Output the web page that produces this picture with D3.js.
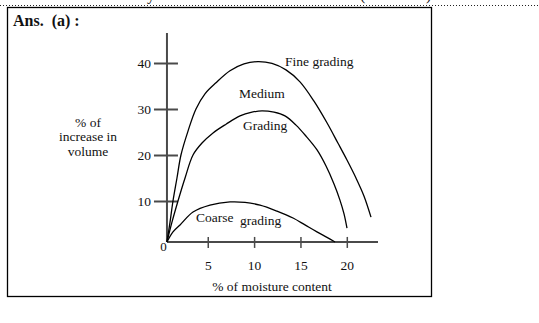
<!DOCTYPE html>
<html><head><meta charset="utf-8">
<script src="https://cdn.jsdelivr.net/npm/d3@7"></script>
<style>
html,body{margin:0;padding:0;background:#fff;}
svg{display:block;}
text{font-family:"Liberation Serif","Times New Roman",serif;fill:#111;}
</style></head>
<body>
<script>
// ---- data ----
const xTicks = [5, 10, 15, 20];
const yTicks = [10, 20, 30, 40];
const origin = [0.6, 1.1]; // where the drawn axes cross
const fineX   = [0.6, 0.93, 1.25, 1.68, 2.11, 2.87, 3.73, 4.7, 5.89, 7.4, 8.91, 10.42, 11.93, 13.44, 14.95, 16.46, 17.86, 19.04, 20.02, 20.99, 21.85, 22.61];
const fineY   = [1.1, 5.4, 10, 15, 20, 25.2, 30, 33.3, 35.7, 38.3, 39.8, 40.3, 39.9, 38.5, 35.9, 31.7, 27, 22.6, 18.9, 15, 11.1, 6.5];
const mediumX = [0.6, 1.14, 1.79, 2.55, 3.41, 4.38, 5.57, 6.97, 8.48, 9.77, 10.85, 12.15, 13.33, 14.52, 15.6, 16.79, 17.76, 18.62, 19.26, 19.7, 20.02];
const mediumY = [1.1, 5.4, 10, 15, 20, 22.6, 24.8, 26.7, 28.5, 29.3, 29.6, 29.3, 28.5, 26.5, 24.1, 21.1, 17.6, 13.7, 10.2, 7.2, 4.1];
const coarseX = [0.6, 1.25, 2.01, 3.41, 5.24, 7.4, 9.02, 10.64, 12.47, 14.2, 15.49, 16.78, 17.86, 18.73];
const coarseY = [1.1, 3.3, 4.8, 7.6, 9.1, 9.8, 9.7, 9.1, 7.8, 6.3, 4.8, 3.3, 2.1, 1.1];

const W = 539, H = 323;
const svg = d3.select("body").append("svg").attr("width", W).attr("height", H);

const x = d3.scaleLinear().domain([0, 20]).range([161.4, 346.8]);
const y = d3.scaleLinear().domain([0, 40]).range([247, 63]);

// top dotted rule and clipped text above
svg.append("line").attr("x1", 0).attr("x2", W).attr("y1", 5.5).attr("y2", 5.5)
  .attr("stroke", "#222").attr("stroke-width", 1).attr("stroke-dasharray", "1,2");
[["y", 147], ["(", 360], [")", 426]].forEach(([t, px]) => {
  svg.append("text").attr("x", px).attr("y", -0.5).attr("font-size", 16).text(t);
});

// frame
svg.append("rect").attr("x", 7.5).attr("y", 7.5).attr("width", 424).attr("height", 289)
  .attr("fill", "none").attr("stroke", "#000").attr("stroke-width", 1.3);

svg.append("text").attr("x", 13).attr("y", 26).attr("font-size", 16).attr("font-weight", "bold")
  .attr("xml:space", "preserve").text("Ans.  (a) :");

const ox = x(origin[0]), oy = y(origin[1]);
const axisColor = "#4a4a4a";

// axes lines
svg.append("line").attr("x1", ox).attr("x2", ox).attr("y1", 33).attr("y2", oy)
  .attr("stroke", axisColor).attr("stroke-width", 2);
svg.append("line").attr("x1", ox).attr("x2", 378).attr("y1", oy).attr("y2", oy)
  .attr("stroke", axisColor).attr("stroke-width", 2);

// y axis ticks
const gy = svg.append("g").attr("transform", `translate(${ox},0)`)
  .call(d3.axisLeft(y).tickValues(yTicks).tickSize(13).tickPadding(4).tickFormat(d3.format("d")));
gy.select(".domain").remove();
gy.selectAll(".tick line").attr("x1", 11).attr("x2", -13).attr("stroke", axisColor).attr("stroke-width", 2);
gy.selectAll(".tick text").attr("font-family", "Liberation Serif, serif").attr("font-size", 13.5).attr("fill", "#111")
  .attr("x", -16).attr("dy", "0.36em");

// x axis ticks
const gx = svg.append("g").attr("transform", `translate(0,${oy})`)
  .call(d3.axisBottom(x).tickValues(xTicks).tickSize(5).tickPadding(15).tickFormat(d3.format("d")));
gx.select(".domain").remove();
gx.selectAll(".tick line").attr("y1", -5).attr("y2", 6).attr("stroke", axisColor).attr("stroke-width", 1.5);
gx.selectAll(".tick text").attr("font-family", "Liberation Serif, serif").attr("font-size", 13.5).attr("fill", "#111")
  .attr("y", 18).attr("dy", "0.71em");

svg.append("text").attr("x", ox - 3.5).attr("y", 251).attr("font-size", 13).attr("text-anchor", "middle").text("0");

// curves
const line = d3.line().x(d => x(d[0])).y(d => y(d[1])).curve(d3.curveCatmullRom.alpha(0.5));
[[fineX, fineY], [mediumX, mediumY], [coarseX, coarseY]].forEach(([xs, ys]) => {
  svg.append("path").attr("d", line(xs.map((v, i) => [v, ys[i]])))
    .attr("fill", "none").attr("stroke", "#000").attr("stroke-width", 1.3);
});

// curve labels
const lab = (t, px, py) => svg.append("text").attr("x", px).attr("y", py).attr("font-size", 13.5).text(t);
lab("Fine grading", 285, 66);
lab("Medium", 239, 98);
lab("Grading", 243, 130);
lab("Coarse", 196, 222);
lab("grading", 240, 225);

// axis titles
const yl = svg.append("text").attr("text-anchor", "middle").attr("font-size", 13.5);
[["% of", 126.5], ["increase in", 140.5], ["volume", 156]].forEach(([t, py]) => {
  yl.append("tspan").attr("x", 88).attr("y", py).text(t);
});
svg.append("text").attr("x", 272).attr("y", 290.5).attr("text-anchor", "middle").attr("font-size", 13.5)
  .text("% of moisture content");
</script>
</body></html>
